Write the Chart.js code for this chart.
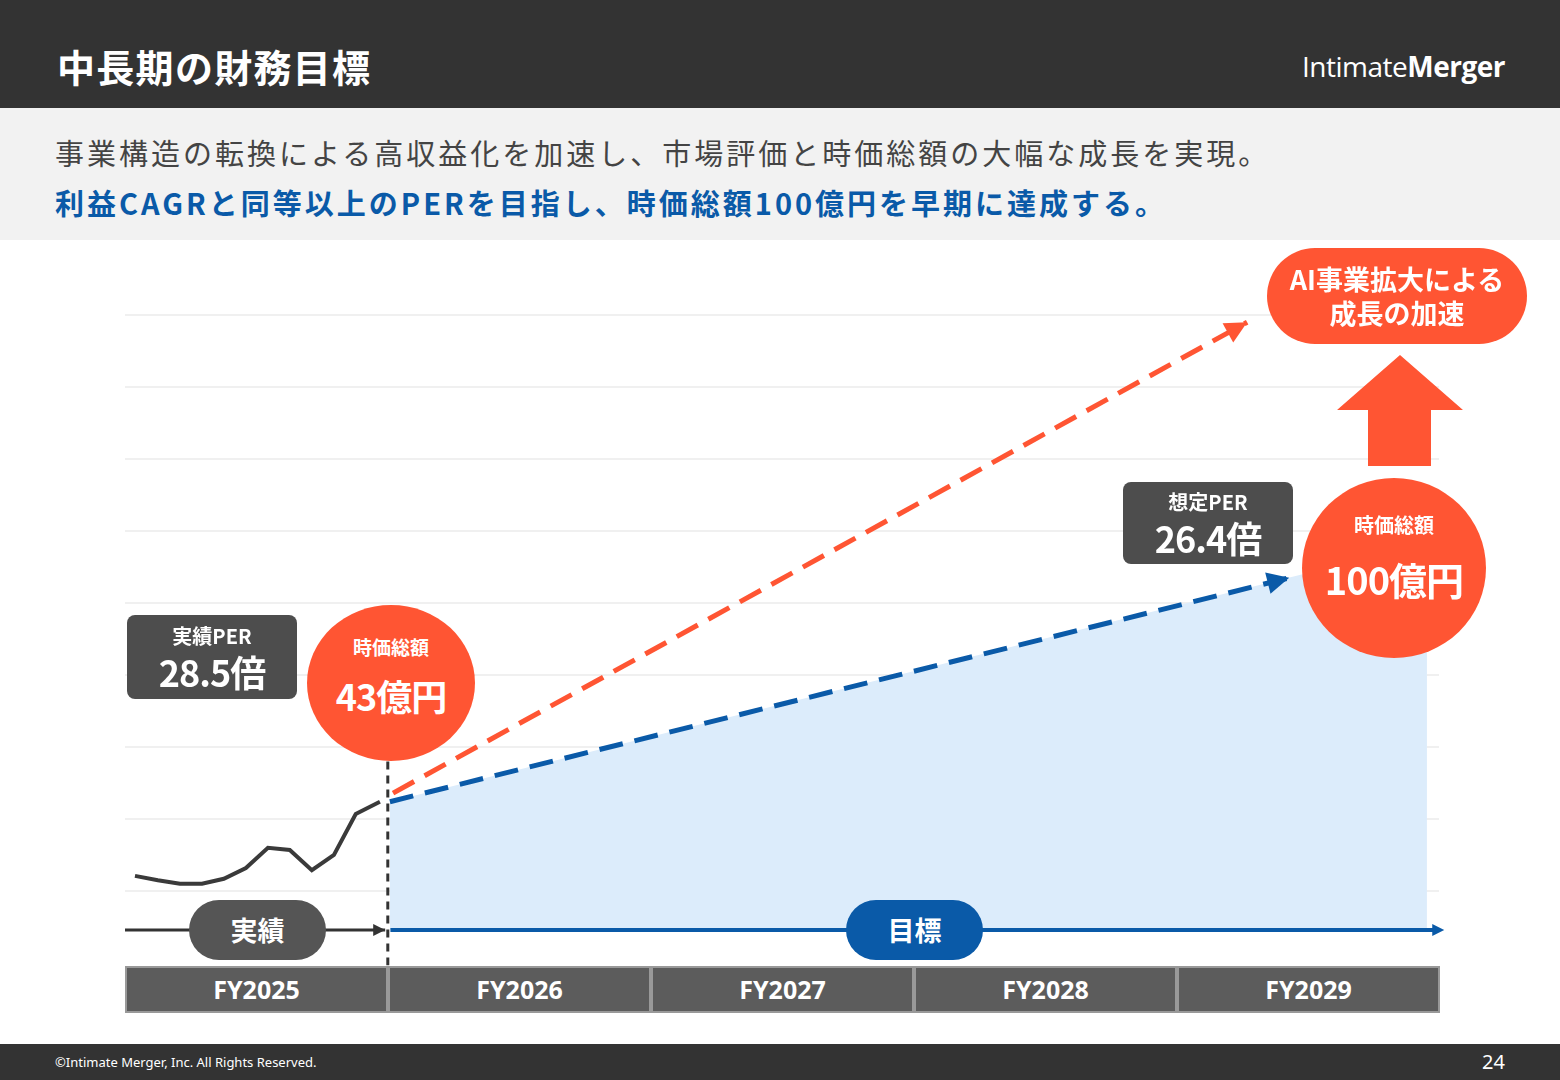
<!DOCTYPE html>
<html><head><meta charset="utf-8">
<script src="https://cdn.jsdelivr.net/npm/chart.js@4.4.1/dist/chart.umd.min.js"></script>
<style>
body{margin:0;width:1560px;height:1080px;position:relative;overflow:hidden;background:#fff;font-family:"Noto Sans CJK JP","Noto Sans",sans-serif}
.abs{position:absolute}
#head{left:0;top:0;width:1560px;height:108px;background:#333}
#title{left:57px;top:38px;color:#fff;font-size:38px;font-weight:700;line-height:56px;letter-spacing:1.3px}
#logo{right:55px;top:46px;color:#fff;font-size:28px;line-height:40px;font-family:"Open Sans",sans-serif;letter-spacing:-0.5px}
#band{left:0;top:108px;width:1560px;height:132px;background:#f2f2f2}
#l1{left:55px;top:130px;font-size:29px;color:#444;line-height:44px;letter-spacing:3px}
#l2{left:55px;top:180px;font-size:29px;color:#0a5aa8;font-weight:700;line-height:44px;letter-spacing:3px}
.circ{background:#ff5533;border-radius:50%;color:#fff;text-align:center;font-weight:700}
.box{background:#4d4d4d;border-radius:8px;color:#fff;text-align:center;font-weight:700}
.pill{border-radius:30px;color:#fff;font-weight:700;font-size:27px;text-align:center;line-height:60px}
.fy{top:966px;height:47px;width:263px;background:#5c5c5c;border:2px solid #999;color:#fff;font-weight:700;font-size:25px;text-align:center;line-height:43px;box-sizing:border-box;font-family:"Noto Sans",sans-serif}
#foot{left:0;top:1044px;width:1560px;height:36px;background:#333;color:#fff}
canvas{position:absolute;left:0;top:0}
</style></head><body>
<div id="head" class="abs"></div>
<div id="title" class="abs">中長期の財務目標</div>
<div id="logo" class="abs">Intimate<b>Merger</b></div>
<div id="band" class="abs"></div>
<div id="l1" class="abs">事業構造の転換による高収益化を加速し、市場評価と時価総額の大幅な成長を実現。</div>
<div id="l2" class="abs">利益CAGRと同等以上のPERを目指し、時価総額100億円を早期に達成する。</div>
<canvas id="c" width="1560" height="1080"></canvas>
<div id="overlay"></div>
<script>
const fyLabels = ["FY2025", "FY2026", "FY2027", "FY2028", "FY2029"];
const actualX = [0.038, 0.125, 0.209, 0.293, 0.376, 0.46, 0.544, 0.627, 0.711, 0.795, 0.878, 0.97];
const actualY = [1.21, 1.15, 1.10, 1.10, 1.17, 1.32, 1.60, 1.57, 1.29, 1.50, 2.07, 2.24];
const targetX = [1.008, 4.43];
const targetY = [2.24, 5.35];
const upsideX = [1.02, 4.27];
const upsideY = [2.36, 8.90];
const fillX = [1.008, 4.954];
const fillY = [2.24, 5.83];
const timeY = 0.46;

function pts(xs, ys) { return xs.map((x, i) => ({x: x, y: ys[i]})); }

const ov = document.getElementById("overlay");
function add(cls, style, html) {
    let d = document.createElement("div");
    d.className = "abs " + cls;
    d.style.cssText = style;
    d.innerHTML = html;
    ov.appendChild(d);
}
fyLabels.forEach(function (f, i) {
    add("fy", "left:" + (125 + i * 263) + "px", f);
});

const bg = {
    id: "bg",
    beforeDatasetsDraw: function (chart) {
        let ctx = chart.ctx, y = chart.scales.y, x = chart.scales.x;
        ctx.save();
        ctx.strokeStyle = "#f0f0f0";
        ctx.lineWidth = 2;
        for (let v = 1; v <= 9; v++) {
            ctx.beginPath();
            ctx.moveTo(x.left, y.getPixelForValue(v));
            ctx.lineTo(x.right, y.getPixelForValue(v));
            ctx.stroke();
        }
        ctx.restore();
    },
    afterDatasetsDraw: function (chart) {
        let ctx = chart.ctx, y = chart.scales.y, x = chart.scales.x;
        ctx.save();
        ctx.setLineDash([8, 6]);
        ctx.strokeStyle = "#333";
        ctx.lineWidth = 3;
        ctx.beginPath();
        ctx.moveTo(x.getPixelForValue(1), y.getPixelForValue(2.8));
        ctx.lineTo(x.getPixelForValue(1), y.getPixelForValue(-0.03));
        ctx.stroke();
        ctx.restore();
        // arrow heads
        [[2, "#0a5aa8", 22], [3, "#ff5533", 22], [4, "#333", 12], [5, "#0a5aa8", 12]].forEach(function (a) {
            let d = chart.getDatasetMeta(a[0]).data;
            let p1 = d[d.length - 2], p2 = d[d.length - 1];
            let ang = Math.atan2(p2.y - p1.y, p2.x - p1.x), s = a[2];
            ctx.save();
            ctx.translate(p2.x, p2.y);
            ctx.rotate(ang);
            ctx.fillStyle = a[1];
            ctx.beginPath();
            ctx.moveTo(0, 0);
            ctx.lineTo(-s, -s * 0.5);
            ctx.lineTo(-s, s * 0.5);
            ctx.closePath();
            ctx.fill();
            ctx.restore();
        });
        // big up arrow
        ctx.save();
        ctx.fillStyle = "#ff5533";
        ctx.beginPath();
        ctx.moveTo(1400, 355);
        ctx.lineTo(1463, 410);
        ctx.lineTo(1431, 410);
        ctx.lineTo(1431, 466);
        ctx.lineTo(1368, 466);
        ctx.lineTo(1368, 410);
        ctx.lineTo(1337, 410);
        ctx.closePath();
        ctx.fill();
        ctx.restore();
    }
};

new Chart(document.getElementById("c"), {
    type: "line",
    data: {
        datasets: [
            {data: pts(fillX, fillY), order: 10, borderWidth: 0, pointRadius: 0, fill: {value: timeY}, backgroundColor: "#dcecfb"},
            {data: pts(actualX, actualY), borderColor: "#3a3a3a", borderWidth: 4, pointRadius: 0, fill: false},
            {data: pts(targetX, targetY), borderColor: "#0a5aa8", borderWidth: 5, borderDash: [24, 12], pointRadius: 0, fill: false},
            {data: pts(upsideX, upsideY), borderColor: "#ff5533", borderWidth: 5, borderDash: [24, 12], pointRadius: 0, fill: false},
            {data: pts([0, 0.99], [timeY, timeY]), borderColor: "#333", borderWidth: 3, pointRadius: 0, fill: false},
            {data: pts([1.01, 5.02], [timeY, timeY]), borderColor: "#0a5aa8", borderWidth: 4, pointRadius: 0, fill: false}
        ]
    },
    options: {
        responsive: false,
        animation: false,
        layout: {padding: {left: 125, right: 121, top: 315, bottom: 117}},
        plugins: {legend: {display: false}, tooltip: {enabled: false}},
        scales: {
            x: {type: "linear", min: 0, max: 5, display: false},
            y: {min: 0, max: 9, display: false}
        }
    },
    plugins: [bg]
});

add("pill", "left:189px;top:900px;width:137px;height:60px;background:#555", "実績");
add("pill", "left:846px;top:900px;width:137px;height:60px;background:#0a5aa8", "目標");
add("box", "left:127px;top:615px;width:170px;height:84px", "<div style='font-size:20px;line-height:26px;padding-top:8px'>実績PER</div><div style='font-size:36px;line-height:44px;letter-spacing:-1px'>28.5倍</div>");
add("box", "left:1123px;top:482px;width:170px;height:82px", "<div style='font-size:20px;line-height:26px;padding-top:7px'>想定PER</div><div style='font-size:36px;line-height:44px;letter-spacing:-1px'>26.4倍</div>");
add("circ", "left:307px;top:605px;width:168px;height:156px", "<div style='font-size:19px;padding-top:28px;line-height:28px'>時価総額</div><div style='font-size:36px;line-height:60px;padding-top:4px;letter-spacing:-1px'>43億円</div>");
add("circ", "left:1302px;top:478px;width:184px;height:180px", "<div style='font-size:20px;padding-top:32px;line-height:30px'>時価総額</div><div style='font-size:38px;line-height:70px;padding-top:4px;letter-spacing:-1px'>100億円</div>");
add("circ", "left:1267px;top:248px;width:260px;height:96px;border-radius:48px", "<div style='font-size:27px;line-height:34px;padding-top:14px'>AI事業拡大による<br>成長の加速</div>");
</script>
<div id="foot" class="abs"><span class="abs" style="left:55px;top:9px;font-size:13px;font-family:'Noto Sans',sans-serif">©Intimate Merger, Inc. All Rights Reserved.</span><span class="abs" style="right:55px;top:4px;font-size:20px;font-family:'Noto Sans',sans-serif">24</span></div>
</body></html>
